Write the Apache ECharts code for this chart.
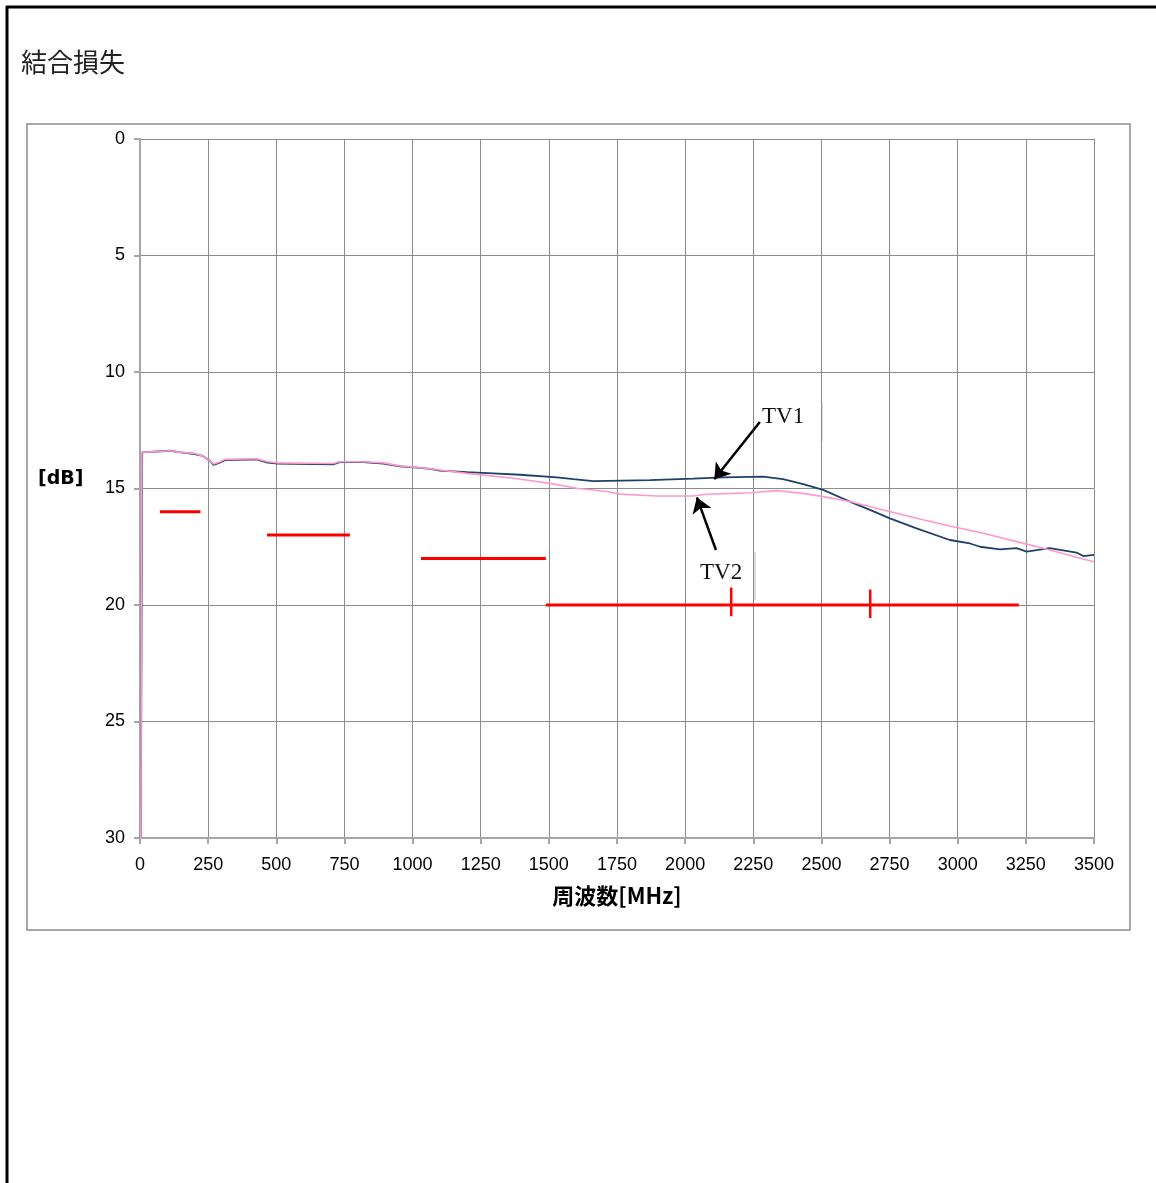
<!DOCTYPE html>
<html>
<head>
<meta charset="utf-8">
<title>結合損失</title>
<script src="https://cdn.jsdelivr.net/npm/echarts@6/dist/echarts.min.js"></script>
<style>
  html, body { margin: 0; padding: 0; background: #fff; }
  #chart { width: 1156px; height: 1183px; }
</style>
</head>
<body>
<div id="chart"></div>
<script>
// 周波数[MHz] / 結合損失[dB]
const tv1Data = [
  [3, 30], [8, 13.45], [12, 13.38], [110, 13.38], [150, 13.45], [200, 13.52], [230, 13.6],
  [255, 13.8], [270, 13.99], [290, 13.9], [312, 13.78], [428, 13.75], [468, 13.89], [505, 13.93],
  [708, 13.96], [734, 13.87], [819, 13.87], [893, 13.93], [954, 14.05], [1016, 14.1], [1064, 14.16],
  [1100, 14.23], [1200, 14.3], [1296, 14.35], [1394, 14.41], [1529, 14.52], [1590, 14.6],
  [1663, 14.68], [1871, 14.64], [2029, 14.58], [2139, 14.52], [2286, 14.49], [2359, 14.6],
  [2433, 14.81], [2506, 15.06], [2604, 15.56], [2678, 15.92], [2751, 16.28], [2849, 16.71],
  [2971, 17.21], [3045, 17.36], [3082, 17.5], [3155, 17.61], [3216, 17.56], [3253, 17.71],
  [3338, 17.56], [3436, 17.75], [3460, 17.9], [3500, 17.85]
];
const tv2Data = [
  [3, 30], [7, 13.45], [12, 13.38], [110, 13.38], [150, 13.45], [200, 13.5], [230, 13.6],
  [255, 13.8], [270, 13.95], [290, 13.87], [312, 13.75], [428, 13.72], [468, 13.85], [505, 13.9],
  [708, 13.93], [734, 13.85], [819, 13.85], [893, 13.9], [954, 14.03], [1064, 14.15], [1199, 14.35],
  [1370, 14.56], [1504, 14.78], [1602, 14.99], [1712, 15.13], [1761, 15.24], [1895, 15.32],
  [2029, 15.32], [2079, 15.25], [2176, 15.21], [2238, 15.18], [2336, 15.09], [2433, 15.21],
  [2506, 15.35], [2604, 15.56], [2727, 15.92], [2849, 16.28], [2971, 16.61], [3094, 16.92],
  [3216, 17.28], [3338, 17.64], [3436, 17.95], [3500, 18.14]
];

// 規格値（赤線）
const limitStart = [73, 466, 1031, 1489];
const limitEnd = [222, 770, 1489, 3224];
const limitValue = [16, 17, 18, 20];
// 規格線上の縦目盛
const markFreq = [2169, 2679];
const markTop = [19.25, 19.33];
const markBottom = [20.48, 20.56];

// 矢印 [始点, 終点]
const arrowTV1 = [[2274, 12.15], [2107, 14.6]];
const arrowTV2 = [[2113, 17.64], [2043, 15.38]];

const chart = echarts.init(document.getElementById('chart'));

const limitSeries = limitValue.map((v, i) => ({
  type: 'line',
  data: [[limitStart[i], v], [limitEnd[i], v]],
  symbol: 'none',
  lineStyle: { color: '#ff0000', width: 3 },
  silent: true,
  z: 3
}));
const markSeries = markFreq.map((f, i) => ({
  type: 'line',
  data: [[f, markTop[i]], [f, markBottom[i]]],
  symbol: 'none',
  lineStyle: { color: '#ff0000', width: 2.5 },
  silent: true,
  z: 3
}));

const tickFont = 'Liberation Sans';

const option = {
  animation: false,
  backgroundColor: '#fff',
  grid: { left: 140, top: 139, width: 954, height: 699 },
  xAxis: {
    type: 'value',
    min: 0, max: 3500, interval: 250,
    name: '周波数[MHz]',
    nameLocation: 'middle',
    nameGap: 47,
    nameTextStyle: { fontFamily: 'Noto Sans CJK JP', fontSize: 22, fontWeight: 'bold', color: '#000' },
    axisLine: { show: true, onZero: false, lineStyle: { color: '#a6a6a6', width: 2 } },
    axisTick: { show: true, length: 6, lineStyle: { color: '#a6a6a6', width: 2 } },
    axisLabel: { margin: 18, fontFamily: tickFont, fontSize: 18, color: '#000',
      formatter: v => String(v) },
    splitLine: { show: true, lineStyle: { color: '#8c8c8c', width: 1 } }
  },
  yAxis: {
    type: 'value',
    inverse: true,
    min: 0, max: 30, interval: 5,
    axisLine: { show: true, onZero: false, lineStyle: { color: '#a6a6a6', width: 2 } },
    axisTick: { show: true, length: 6, lineStyle: { color: '#a6a6a6', width: 2 } },
    axisLabel: { margin: 15, fontFamily: tickFont, fontSize: 18, color: '#000' },
    splitLine: { show: true, lineStyle: { color: '#8c8c8c', width: 1 } }
  },
  graphic: [
    // 外枠
    { type: 'line', shape: { x1: 7, y1: 6, x2: 7, y2: 1183 }, style: { stroke: '#000', lineWidth: 3 } },
    { type: 'line', shape: { x1: 6, y1: 7, x2: 1156, y2: 7 }, style: { stroke: '#000', lineWidth: 3 } },
    // プロットエリア枠
    { type: 'rect', shape: { x: 27, y: 124, width: 1103, height: 806 },
      style: { fill: 'none', stroke: '#8c8c8c', lineWidth: 1.5 }, z: -1 },
    { type: 'text', left: 21, top: 49,
      style: { text: '結合損失', font: '26px "Noto Sans CJK JP"', fill: '#222' } },
    { type: 'text', left: 38, top: 470,
      style: { text: '[dB]', font: 'bold 19px "DejaVu Sans"', fill: '#000' } },
    { type: 'text', left: 762, top: 405, z: 10,
      style: { text: 'TV1', font: '23px "Liberation Serif"', fill: '#111' } },
    { type: 'text', left: 700, top: 561, z: 10,
      style: { text: 'TV2', font: '23px "Liberation Serif"', fill: '#111' } },
    { type: 'line', shape: { x1: 822, y1: 402, x2: 822, y2: 441 }, style: { stroke: '#dddddd', lineWidth: 2 } },
    { type: 'line', shape: { x1: 755, y1: 552, x2: 755, y2: 600 }, style: { stroke: '#dddddd', lineWidth: 2 } }
  ],
  series: [
    {
      name: 'TV1',
      type: 'line',
      data: tv1Data,
      symbol: 'none',
      lineStyle: { color: '#1f3f6e', width: 1.8 },
      z: 4
    },
    {
      name: 'TV2',
      type: 'line',
      data: tv2Data,
      symbol: 'none',
      lineStyle: { color: '#ff99cc', width: 1.6 },
      z: 5
    },
    ...limitSeries,
    ...markSeries,
    {
      type: 'line',
      data: [],
      silent: true,
      markLine: {
        silent: true,
        symbol: ['none', 'arrow'],
        symbolSize: 15,
        label: { show: false },
        lineStyle: { color: '#000', width: 2.5, type: 'solid' },
        data: [
          [{ coord: arrowTV1[0] }, { coord: arrowTV1[1] }],
          [{ coord: arrowTV2[0] }, { coord: arrowTV2[1] }]
        ]
      },
      z: 6
    }
  ]
};

chart.setOption(option);
</script>
</body>
</html>
